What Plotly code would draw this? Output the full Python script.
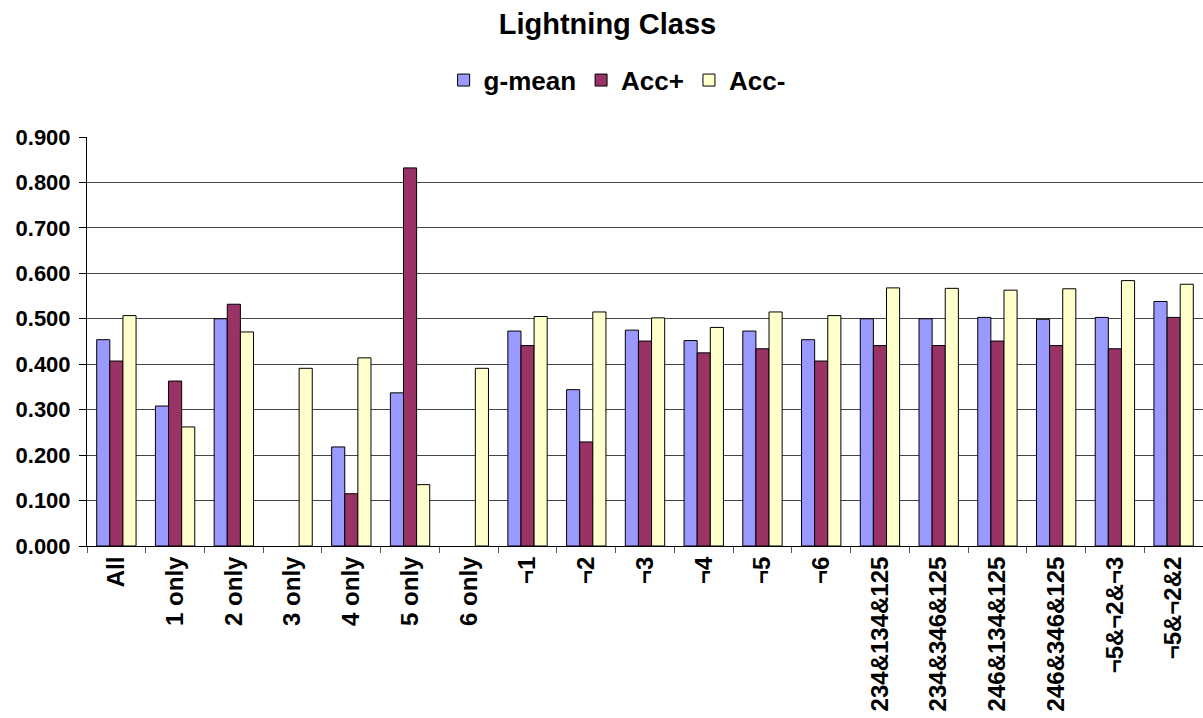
import plotly.graph_objects as go

categories = ["All", "1 only", "2 only", "3 only", "4 only", "5 only", "6 only",
              "¬1", "¬2", "¬3", "¬4", "¬5", "¬6",
              "234&134&125", "234&346&125", "246&134&125", "246&346&125",
              "¬5&¬2&¬3", "¬5&¬2&2"]
g_mean = [0.454, 0.308, 0.500, None, 0.218, 0.337, None,
          0.473, 0.344, 0.475, 0.452, 0.473, 0.454,
          0.500, 0.500, 0.503, 0.499, 0.503, 0.538]
acc_pos = [0.407, 0.363, 0.532, None, 0.115, 0.832, None,
           0.441, 0.229, 0.451, 0.425, 0.434, 0.407,
           0.441, 0.441, 0.451, 0.441, 0.434, 0.503]
acc_neg = [0.507, 0.262, 0.471, 0.391, 0.414, 0.135, 0.391,
           0.505, 0.515, 0.502, 0.481, 0.515, 0.507,
           0.568, 0.567, 0.563, 0.566, 0.584, 0.576]
y_ticks = [0.0, 0.1, 0.2, 0.3, 0.4, 0.5, 0.6, 0.7, 0.8, 0.9]

series = [("g-mean", g_mean, "#9999FF"),
          ("Acc+", acc_pos, "#993366"),
          ("Acc-", acc_neg, "#FFFFCC")]

FONT = "Arial, Liberation Sans, sans-serif"
fig = go.Figure()
for name, vals, color in series:
    fig.add_trace(go.Bar(
        x=categories, y=vals, name=name,
        marker=dict(color=color, line=dict(color="black", width=1)),
    ))

fig.update_layout(
    width=1203, height=718,
    paper_bgcolor="white", plot_bgcolor="white",
    barmode="group", bargap=0.33, bargroupgap=0,
    margin=dict(l=87, r=0, t=137, b=172),
    font=dict(family=FONT, color="black"),
    title=dict(text="<b>Lightning Class</b>", x=0.505, xref="container",
               xanchor="center", y=1 - 24 / 718, yref="container", yanchor="middle",
               font=dict(size=29, family=FONT, color="black")),
    legend=dict(orientation="h", x=0.475, xanchor="center", y=1.139, yanchor="middle",
                font=dict(size=26, family=FONT, color="black", weight="bold"),
                itemwidth=30, tracegroupgap=0, bgcolor="rgba(0,0,0,0)"),
    showlegend=True,
)
fig.update_xaxes(
    type="category", tickangle=-90,
    tickfont=dict(size=24, family=FONT, color="black", weight="bold"),
    showline=True, linecolor="black", linewidth=1,
    ticks="outside", tickson="boundaries", ticklen=6, tickcolor="#555",
    showgrid=False,
)
fig.update_yaxes(
    range=[0, 0.9], tickvals=y_ticks, tickformat=".3f",
    tickfont=dict(size=22, family=FONT, color="black", weight="bold"),
    showline=True, linecolor="black", linewidth=1,
    ticks="outside", ticklen=7, tickcolor="black", ticklabelstandoff=4,
    showgrid=True, gridcolor="#444", gridwidth=1,
    zeroline=False,
)
fig.write_html("out.html")
